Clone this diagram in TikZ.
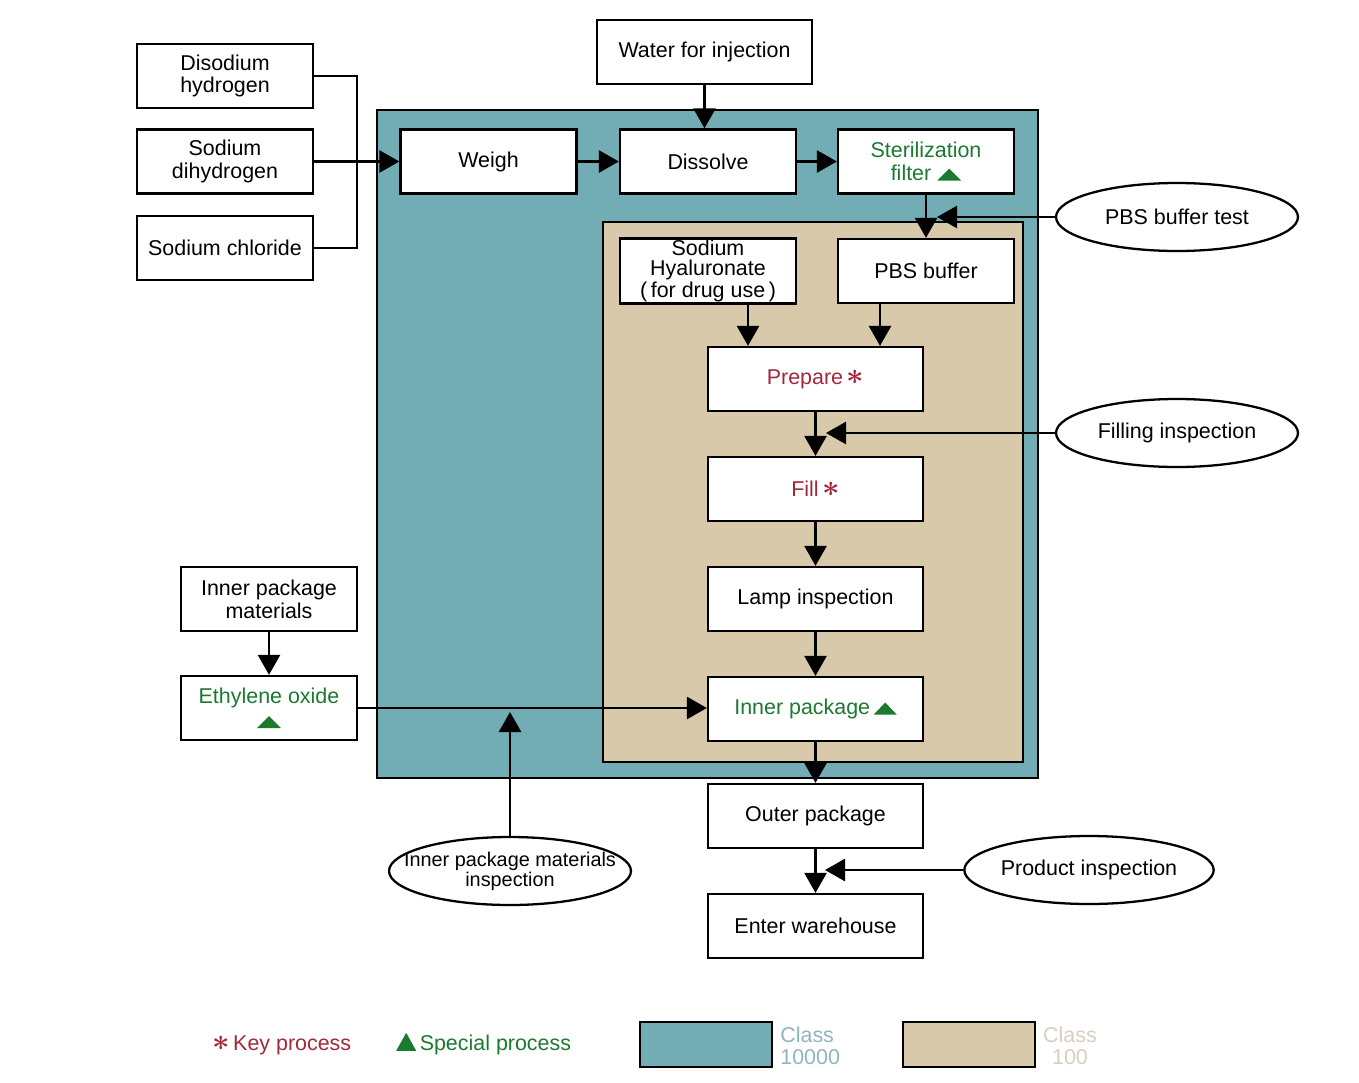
\documentclass[tikz,border=0pt]{standalone}
\usepackage{amsmath}
\usepackage{fontspec}
\setmainfont{Liberation Sans}
\usetikzlibrary{arrows.meta,shapes.geometric}
\definecolor{cblue}{HTML}{72ADB5}
\definecolor{ctan}{HTML}{D8C9AA}
\definecolor{tgreen}{HTML}{1B7A30}
\definecolor{tred}{HTML}{A3283B}
\definecolor{lblue}{HTML}{8DB6BD}
\definecolor{ltan}{HTML}{D9CFBE}
\newcommand\gtri[2]{\tikz[baseline=0pt]\fill[tgreen] (0cm,0cm) -- (#1,0cm) -- (0.5*#1,#2) -- cycle;}
\newcommand\rast{{\fontsize{16}{16}\selectfont$\boldsymbol{\ast}$}}
\begin{document}
\begin{tikzpicture}[x=0.02cm,y=-0.02cm,
  txt/.style={font=\fontsize{12.2}{13}\selectfont},
  box/.style={txt,draw,line width=1.3pt,fill=white,minimum width=3.52cm,minimum height=1.28cm,inner sep=1pt,align=center},
  wbox/.style={box,minimum width=4.3cm},
  ell/.style={txt,draw,line width=1.3pt,fill=white,ellipse,minimum width=4.84cm,minimum height=1.36cm,inner sep=0pt},
  arr/.style={line width=1.5pt,-{Triangle[length=0.4cm,width=0.44cm]}},
  ln/.style={line width=1.5pt}]
\useasboundingbox (0,0) rectangle (1359,1082);

% regions
\draw[line width=1.3pt,fill=cblue] (377,110) rectangle (1038,778);
\draw[line width=1.3pt,fill=ctan] (603,222) rectangle (1023,762);

% raw materials
\node[box] (dis) at (225,76) {Disodium\\hydrogen};
\node[box] (sdh) at (225,161.5) {Sodium\\dihydrogen};
\node[box] (scl) at (225,248) {Sodium chloride};
\node[wbox] (water) at (704.5,52) {Water for injection};

% class 10000 steps
\node[box] (weigh) at (488.5,161.5) {Weigh};
\node[box] (dissolve) at (708,161.5) {Dissolve};
\node[box,text=tgreen] (steril) at (926,161.5) {Sterilization\\filter \gtri{0.48cm}{0.24cm}};

% class 100 steps
\node[box,font=\fontsize{12.2}{11.2}\selectfont] (shya) at (708,271) {Sodium\\Hyaluronate\\(\,for drug use\,)};
\node[box] (pbs) at (926,271) {PBS buffer};
\node[wbox,text=tred] (prep) at (815.5,379) {Prepare\,\rast};
\node[wbox,text=tred] (fill) at (815.5,489) {Fill\,\rast};
\node[wbox] (lamp) at (815.5,599) {Lamp inspection};
\node[wbox,text=tgreen] (inner) at (815.5,709) {Inner package\,\gtri{0.46cm}{0.24cm}};
\node[wbox] (outer) at (815.5,816) {Outer package};
\node[wbox] (enter) at (815.5,926) {Enter warehouse};

% packaging materials
\node[box] (ipm) at (269,599) {Inner package\\materials};
\node[box,text=tgreen] (eo) at (269,708) {Ethylene oxide\\[1pt]\gtri{0.48cm}{0.24cm}};

% inspections
\node[ell] (pbst) at (1177,217) {PBS buffer test};
\node[ell] (filli) at (1177,433) {Filling inspection};
\node[ell] (prodi) at (1089,870) {Product inspection};
\node[ell] (ipmi) at (510,871) {};
\node[txt,align=center,font=\fontsize{11.3}{11.5}\selectfont] (ipmit) at (ipmi.center) {Inner package materials\\inspection};

% connectors
\coordinate (br) at (357,162);
\draw[ln] (dis.east) -| (br) |- (scl.east);
\draw[arr] (sdh.east) -- (weigh.west);
\draw[arr] (water.south) -- (water.south |- dissolve.north);
\draw[arr] (weigh.east) -- (dissolve.west);
\draw[arr] (dissolve.east) -- (steril.west);
\draw[arr] (steril.south) -- (pbs.north);
\coordinate (j1) at (937,217);
\draw[arr] (pbst.west) -- (j1);
\coordinate (cx1) at (748,0);
\coordinate (cx2) at (880,0);
\draw[arr] (shya.south -| cx1) -- (prep.north -| cx1);
\draw[arr] (pbs.south -| cx2) -- (prep.north -| cx2);
\draw[arr] (prep.south) -- (fill.north);
\coordinate (j2) at (826,433);
\draw[arr] (filli.west) -- (j2);
\draw[arr] (fill.south) -- (lamp.north);
\draw[arr] (lamp.south) -- (inner.north);
\draw[arr] (inner.south) -- (outer.north);
\draw[arr] (outer.south) -- (enter.north);
\coordinate (j3) at (825,870);
\draw[arr] (prodi.west) -- (j3);
\draw[arr] (ipm.south) -- (eo.north);
\draw[arr] (eo.east) -- (eo.east -| inner.west);
\coordinate (j4) at (510,712);
\draw[arr] (ipmi.north) -- (j4);

% legend
\node[txt,text=tred,anchor=west] (kp) at (206,1045) {\rast\,Key process};
\node[txt,text=tgreen,anchor=west] (sp) at (390,1044) {\gtri{0.4cm}{0.36cm}\,Special process};
\node[draw,line width=1.3pt,fill=cblue,minimum width=2.64cm,minimum height=0.9cm,inner sep=0pt] (lb) at (706,1044.5) {};
\node[txt,text=lblue,align=left,anchor=west,font=\fontsize{12.2}{12.5}\selectfont,inner sep=0pt] (lbt) at (780,1046) {Class\\10000};
\node[draw,line width=1.3pt,fill=ctan,minimum width=2.64cm,minimum height=0.9cm,inner sep=0pt] (lt) at (969,1044.5) {};
\node[txt,text=ltan,align=center,font=\fontsize{12.2}{12.5}\selectfont,inner sep=0pt] (ltt) at (1070,1046) {Class\\100};
\end{tikzpicture}
\end{document}
